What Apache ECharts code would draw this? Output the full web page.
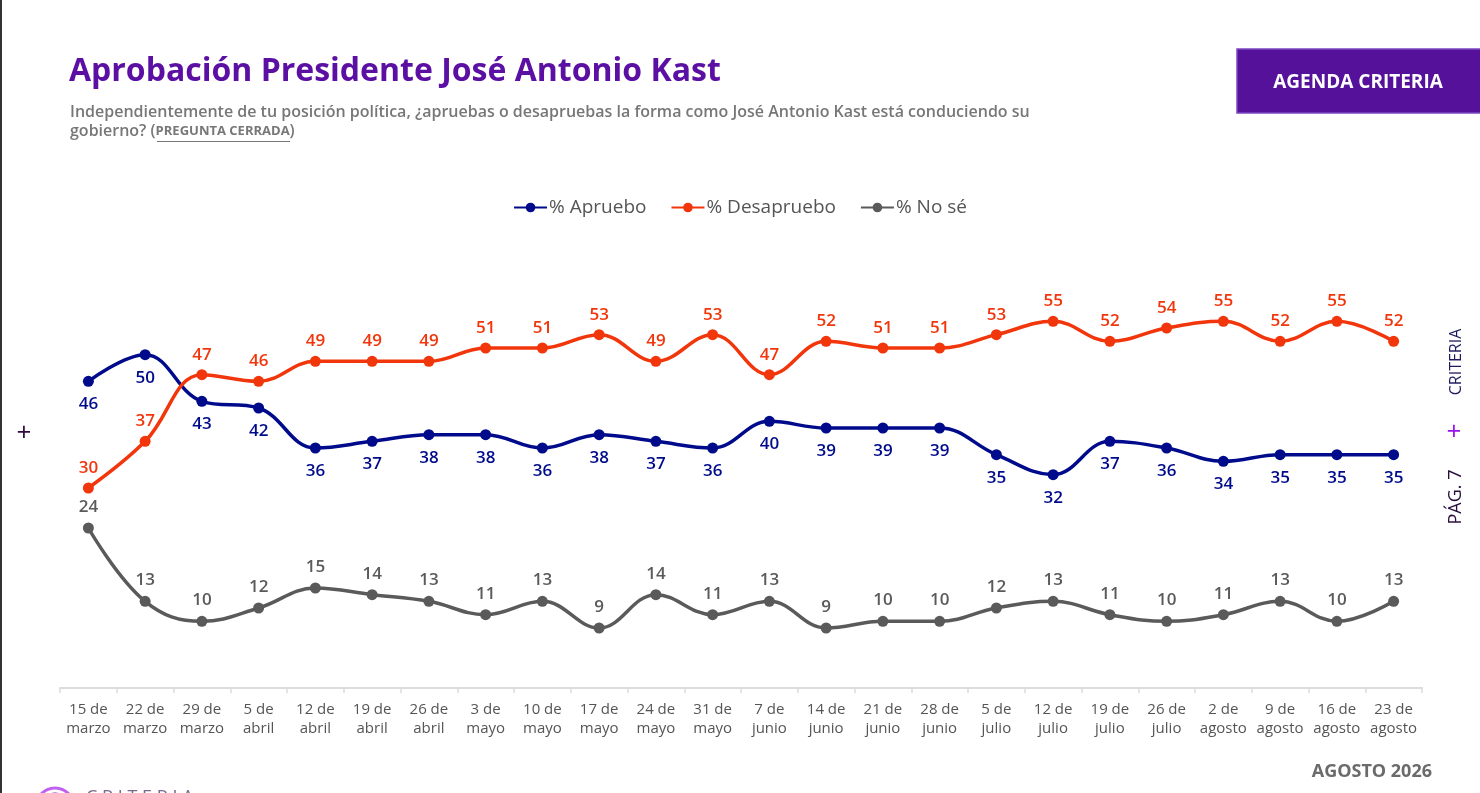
<!DOCTYPE html>
<html>
<head>
<meta charset="utf-8">
<script src="https://cdn.jsdelivr.net/npm/echarts@6/dist/echarts.min.js"></script>
<style>
html,body{margin:0;padding:0;background:#fff;}
#c{width:1480px;height:793px;}
</style>
</head>
<body>
<div id="c"></div>
<script>
const categories = ["15 de\nmarzo","22 de\nmarzo","29 de\nmarzo","5 de\nabril","12 de\nabril","19 de\nabril","26 de\nabril","3 de\nmayo","10 de\nmayo","17 de\nmayo","24 de\nmayo","31 de\nmayo","7 de\njunio","14 de\njunio","21 de\njunio","28 de\njunio","5 de\njulio","12 de\njulio","19 de\njulio","26 de\njulio","2 de\nagosto","9 de\nagosto","16 de\nagosto","23 de\nagosto"];
const apruebo = [46,50,43,42,36,37,38,38,36,38,37,36,40,39,39,39,35,32,37,36,34,35,35,35];
const desapruebo = [30,37,47,46,49,49,49,51,51,53,49,53,47,52,51,51,53,55,52,54,55,52,55,52];
const nose = [24,13,10,12,15,14,13,11,13,9,14,11,13,9,10,10,12,13,11,10,11,13,10,13];
const seriesNames = ["% Apruebo","% Desapruebo","% No sé"];
const colors = ["#000b8c","#f2360c","#5a5a5a"];

const FONT = "'Open Sans', 'Noto Sans', sans-serif";
const chart = echarts.init(document.getElementById('c'), null, {renderer:'canvas'});

function mkSeries(name, data, color, pos, dist){
  return {
    name: name, type:'line', data: data, smooth: 0.4,
    symbol:'circle', symbolSize: 11,
    lineStyle:{color:color, width:3.5},
    itemStyle:{color:color},
    label:{show:true, position:pos, distance:dist, color:color, fontSize:17, fontWeight:600, fontFamily:FONT},
    emphasis:{disabled:true}
  };
}

chart.setOption({
  animation:false,
  textStyle:{fontFamily:FONT},
  legend:{
    top:193, left:'center', itemGap:24, itemWidth:33, itemHeight:12,
    textStyle:{color:'#555', fontSize:19, fontFamily:FONT, padding:[0,0,0,-3]},
    data: seriesNames
  },
  grid:{left:60, right:58, top:288, bottom:105, containLabel:false},
  xAxis:{
    type:'category', data:categories, boundaryGap:true,
    axisLine:{lineStyle:{color:'#dcdcdc', width:2}},
    axisTick:{show:true, interval:0, length:5, lineStyle:{color:'#dcdcdc', width:1.5}},
    axisLabel:{interval:0, color:'#555', fontSize:15, lineHeight:19, margin:12, fontFamily:FONT}
  },
  yAxis:{type:'value', min:0, max:60, show:false, splitLine:{show:false}},
  series:[
    mkSeries(seriesNames[0], apruebo, colors[0], 'bottom', 9),
    mkSeries(seriesNames[1], desapruebo, colors[1], 'top', 6),
    mkSeries(seriesNames[2], nose, colors[2], 'top', 7)
  ],
  graphic:[
    {type:'rect', shape:{x:0,y:0,width:2,height:793}, style:{fill:'#333'}},
    {type:'text', left:69, top:56, style:{text:'Aprobación Presidente José Antonio Kast', fill:'#5b10a3', font:"bold 32px "+FONT}},
    {type:'text', left:70, top:104, style:{text:'Independientemente de tu posición política, ¿apruebas o desapruebas la forma como José Antonio Kast está conduciendo su', fill:'#777777', font:"600 16px "+FONT}},
    {type:'text', left:70, top:123, style:{
      text:'gobierno? ({b|PREGUNTA CERRADA})', fill:'#777777', font:"600 16px "+FONT,
      rich:{b:{fontWeight:'bold', fontSize:13, fill:'#777777', fontFamily:FONT}}
    }},
    {type:'line', shape:{x1:157, y1:141.5, x2:290, y2:141.5}, style:{stroke:'#777777', lineWidth:1}},
    {type:'rect', shape:{x:1237,y:49,width:245,height:64}, style:{fill:'#56119b', stroke:'#7b45c2', lineWidth:1.5}},
    {type:'text', x:1358, y:83, style:{text:'AGENDA CRITERIA', fill:'#fff', font:"bold 19px "+FONT, align:'center', verticalAlign:'middle'}},
    {type:'text', x:1456, y:362, rotation:Math.PI/2, style:{text:'CRITERIA', fill:'#1d1b5e', font:"16px "+FONT, align:'center', verticalAlign:'middle'}},
    {type:'text', x:1454, y:433, style:{text:'+', fill:'#9b10f0', font:"26px "+FONT, align:'center', verticalAlign:'middle'}},
    {type:'text', x:1456, y:497, rotation:Math.PI/2, style:{text:'PÁG. 7', fill:'#2a0b3d', font:"18px "+FONT, align:'center', verticalAlign:'middle'}},
    {type:'text', x:24, y:434, style:{text:'+', fill:'#2d0a40', font:"26px "+FONT, align:'center', verticalAlign:'middle'}},
    {type:'text', x:1432, y:772, style:{text:'AGOSTO 2026', fill:'#6b6b6b', font:"bold 18px "+FONT, align:'right', verticalAlign:'middle'}},
    {type:'circle', shape:{cx:55, cy:807, r:19}, style:{fill:'none', stroke:'#c060f0', lineWidth:3}},
    {type:'circle', shape:{cx:55, cy:807, r:13}, style:{fill:'none', stroke:'#7a10d0', lineWidth:3}},
    {type:'text', left:86, top:789, style:{text:'C R I T E R I A', fill:'#7a6a8a', font:"18px "+FONT}}
  ]
});
</script>
</body>
</html>
